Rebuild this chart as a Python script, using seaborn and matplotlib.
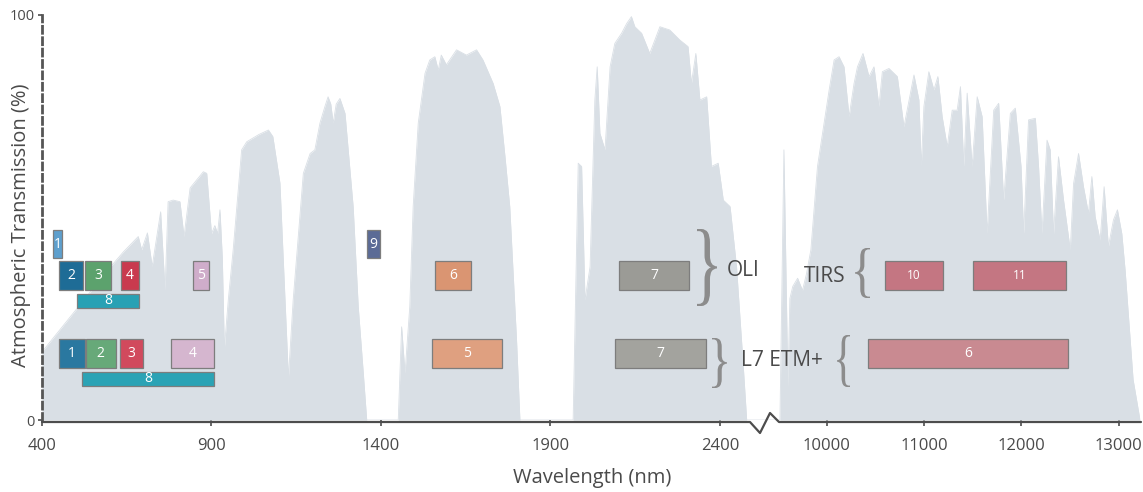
import numpy as np
import pandas as pd
import matplotlib
matplotlib.use("Agg")
import matplotlib.pyplot as plt
import seaborn as sns
from matplotlib.textpath import TextPath
from matplotlib.patches import PathPatch
from matplotlib.font_manager import FontProperties
from matplotlib.transforms import Affine2D
from matplotlib.lines import Line2D

# atmospheric transmission (nm, %)
trans_nm = [400, 500, 600, 640, 684, 694, 711, 725, 750, 763, 772, 787, 807, 819, 837, 876, 886,
            900, 910, 918, 925, 932, 938, 950, 964, 989, 1004, 1040, 1068, 1081, 1102, 1117, 1127,
            1141, 1171, 1191, 1205, 1220, 1235, 1244, 1252, 1259, 1268, 1279, 1294, 1318, 1333,
            1348, 1358, 1451, 1461, 1471, 1485, 1495, 1510, 1530, 1544, 1559, 1569, 1578, 1593,
            1623, 1652, 1682, 1701, 1731, 1751, 1766, 1780, 1800, 1810, 1967, 1982, 1992, 2002,
            2017, 2031, 2038, 2046, 2061, 2076, 2090, 2110, 2125, 2139, 2149, 2169, 2193, 2208,
            2223, 2252, 2282, 2306, 2316, 2329, 2341, 2361, 2375, 2395, 2410, 2430, 2449, 2469,
            2479,
            9518, 9559, 9600, 9620, 9650, 9700, 9750, 9790, 9836, 9904, 10024, 10075, 10126,
            10177, 10229, 10280, 10315, 10372, 10434, 10485, 10536, 10571, 10639, 10725, 10793,
            10896, 10947, 10971, 10998, 11049, 11101, 11142, 11186, 11238, 11289, 11340, 11374,
            11408, 11443, 11494, 11546, 11597, 11648, 11716, 11767, 11818, 11887, 11938, 11997,
            12024, 12074, 12144, 12177, 12212, 12264, 12297, 12331, 12382, 12434, 12503, 12537,
            12588, 12639, 12690, 12725, 12759, 12810, 12851, 12895, 12947, 12988, 13033, 13067,
            13149, 13220]
trans_pct = [16.8, 27.2, 37.6, 41.5, 45.3, 42.0, 46.2, 37.9, 51.4, 32.0, 53.9, 54.3, 53.9, 45.3,
             57.3, 61.3, 60.9, 46.0, 48.0, 46.0, 51.9, 40.0, 17.7, 30.0, 42.0, 66.7, 68.7, 70.5,
             71.6, 70.0, 58.5, 29.6, 10.4, 29.6, 60.9, 65.8, 66.7, 73.3, 77.5, 79.8, 78.0, 73.3,
             78.0, 79.4, 75.7, 52.7, 28.0, 11.5, 0, 0, 23.0, 11.5, 28.0, 52.7, 73.3, 85.6, 88.9,
             89.7, 86.4, 90.1, 87.7, 91.4, 90.1, 91.4, 88.9, 83.1, 77.4, 65.0, 52.7, 19.8, 0, 0,
             63.4, 62.6, 29.6, 37.9, 79.0, 87.2, 70.8, 66.7, 87.2, 93.0, 95.5, 97.9, 99.6, 97.1,
             95.5, 90.5, 93.8, 97.1, 96.3, 93.8, 92.2, 83.1, 90.5, 79.0, 79.8, 62.6, 63.4, 54.3,
             52.7, 37.9, 13.2, 0,
             0, 66.7, 8.0, 30.0, 33.0, 35.0, 32.0, 36.0, 42.0, 62.6, 81.5, 88.9, 89.7, 87.2, 74.9,
             83.1, 87.2, 90.5, 84.8, 87.2, 77.4, 86.0, 86.8, 84.8, 72.4, 85.2, 79.0, 62.6, 77.4,
             86.0, 81.5, 84.8, 74.9, 67.5, 76.5, 76.5, 82.3, 62.6, 80.7, 62.6, 79.8, 74.9, 46.0,
             76.5, 78.2, 54.3, 75.7, 77.0, 62.6, 46.0, 74.1, 74.5, 62.6, 46.0, 69.1, 66.7, 46.0,
             65.0, 54.3, 42.0, 58.4, 65.8, 57.6, 51.0, 60.1, 50.2, 44.4, 57.6, 42.8, 49.4, 51.9,
             46.0, 37.0, 10.0, 0]

# Landsat 8 OLI / TIRS bands (nm)
oli_band = ["1", "2", "3", "4", "5", "6", "7", "8", "9"]
oli_start = [433, 451, 527, 632, 845, 1560, 2103, 502, 1360]
oli_end = [460, 522, 605, 687, 893, 1667, 2308, 687, 1397]
tirs_band = ["10", "11"]
tirs_start = [10595, 11504]
tirs_end = [11192, 12458]

# Landsat 7 ETM+ bands (nm)
etm_band = ["1", "2", "3", "4", "5", "7", "8", "6"]
etm_start = [450, 530, 629, 780, 1551, 2091, 518, 10424]
etm_end = [527, 617, 697, 907, 1758, 2359, 907, 12479]

left_ticks = [400, 900, 1400, 1900, 2400]
right_ticks = [10000, 11000, 12000, 13000]

# ---- layout / style ----
W, H = 1143, 492
FILL = "#d9dfe5"
AXC = "#4d4d4d"
TXT = "#4a4a4a"
LABEL_FONT = ["Open Sans", "DejaVu Sans"]

# row -> (bottom %, height %)
ROWS = {"a": (40.0, 6.9), "b": (32.1, 7.2), "p": (27.7, 3.4), "c": (12.8, 7.2), "q": (8.4, 3.5)}
oli_rows = ["a", "b", "b", "b", "b", "b", "b", "p", "a"]
oli_colors = ["#5d9fcd", "#1e6c96", "#5ca26d", "#c93a4e", "#cfadca", "#da9572", "#9b9b96",
              "#28a1b4", "#5b6b96"]
tirs_rows = ["b", "b"]
tirs_colors = ["#c47682", "#c47682"]
etm_rows = ["c", "c", "c", "c", "c", "c", "q", "c"]
etm_colors = ["#2a78a0", "#67a979", "#d14a5d", "#d5b6cf", "#dfa080", "#a3a39e", "#2ba3b5",
              "#c98a91"]

# broken wavelength axis: piecewise linear scale (pixels across the axes)
BRK_NM = [-1e6, 400, 2536, 9385, 13220, 1e6]
BRK_PX = [(-1e6 - 400) * 0.339, 0, 724, 725, 1098, 1098 + (1e6 - 13220) * 0.0975]


def fwd(x):
    return np.interp(np.asarray(x, float), BRK_NM, BRK_PX)


def inv(u):
    return np.interp(np.asarray(u, float), BRK_PX, BRK_NM)


sns.set_theme(style="white")
plt.rcParams["font.family"] = LABEL_FONT

fig = plt.figure(figsize=(W / 100, H / 100), dpi=100)
ax = fig.add_axes([42 / W, 72 / H, 1098 / W, 405 / H])
ax.set_xscale("function", functions=(fwd, inv))
ax.set_xlim(400, 13220)
ax.set_ylim(0, 100)

# transmission curve
curve = pd.DataFrame({"nm": trans_nm, "pct": trans_pct})
ax.fill_between(curve.nm, 0, curve.pct, color=FILL, lw=0, zorder=1)
sns.lineplot(data=curve, x="nm", y="pct", sort=False, estimator=None, color=FILL, lw=0.6,
             ax=ax, zorder=1)


def draw_bands(names, starts, ends, rows, colors, fs):
    df = pd.DataFrame({"band": names, "start": starts, "end": ends, "row": rows, "color": colors})
    for _, r in df.iterrows():
        y0, h = ROWS[r.row]
        ax.barh(y0, r.end - r.start, left=r.start, height=h, align="edge", color=r.color,
                edgecolor="#7d7d7d", linewidth=0.9, zorder=3)
        xc = inv((fwd(r.start) + fwd(r.end)) / 2)
        ax.text(xc, y0 + h / 2, r.band, color="white", fontsize=fs, ha="center", va="center",
                zorder=4)


draw_bands(oli_band, oli_start, oli_end, oli_rows, oli_colors, 10)
draw_bands(tirs_band, tirs_start, tirs_end, tirs_rows, tirs_colors, 8.5)
draw_bands(etm_band, etm_start, etm_end, etm_rows, etm_colors, 10)

# axes dressing
ax.set_xticks(left_ticks + right_ticks)
ax.set_xticklabels([str(t) for t in left_ticks + right_ticks])
ax.set_yticks([0, 100])
ax.set_yticklabels(["0", "100"])
ax.tick_params(axis="x", direction="out", length=4, width=1.2, color=AXC, pad=9,
               labelsize=12, labelcolor=TXT, bottom=True)
ax.tick_params(axis="y", direction="out", length=3, width=1.2, color=AXC, pad=2,
               labelsize=10.5, labelcolor=TXT, left=True)
for s in ["top", "right", "bottom"]:
    ax.spines[s].set_visible(False)
ax.spines["left"].set_color("#555555")
ax.spines["left"].set_linewidth(2)
ax.spines["left"].set_linestyle((0, (2.5, 1.6)))
ax.set_xlabel("")
ax.set_ylabel("")


def fx(px):
    return px / W


def fy(py):
    return 1 - py / H


# x axis line with break mark
zig_x = [42, 750, 760, 770, 779, 1141]
zig_y = [422, 422, 433, 413, 422, 422]
fig.add_artist(Line2D([fx(v) for v in zig_x], [fy(v) for v in zig_y], color=AXC, lw=1.6,
                      transform=fig.transFigure))

fig.text(fx(21), fy(225), "Atmospheric Transmission (%)", rotation=90, ha="center",
         va="center", fontsize=14.5, color=TXT)
fig.text(fx(592), fy(478), "Wavelength (nm)", ha="center", va="center", fontsize=14.5,
         color=TXT)

brace_prop = FontProperties(family=["Liberation Serif", "DejaVu Serif"])


def brace(ch, x0, y0, w, h):
    tp = TextPath((0, 0), ch, size=1, prop=brace_prop)
    ext = tp.get_extents()
    t = (Affine2D().translate(-ext.x0, -ext.y0)
         .scale(w / ext.width / W, h / ext.height / H)
         .translate(fx(x0), fy(y0 + h))) + fig.transFigure
    fig.add_artist(PathPatch(tp, transform=t, facecolor="#8c8c8c", lw=0))


brace("}", 697, 229, 20, 77)
brace("}", 712, 338, 15, 50)
brace("{", 855, 248, 15, 50)
brace("{", 837, 335, 13, 52)

fig.text(fx(727), fy(270), "OLI", ha="left", va="center", fontsize=15, color=TXT)
fig.text(fx(846), fy(276), "TIRS", ha="right", va="center", fontsize=15, color=TXT)
fig.text(fx(741), fy(361), "L7 ETM+", ha="left", va="center", fontsize=15, color=TXT)

fig.savefig("out.png", dpi=100)
